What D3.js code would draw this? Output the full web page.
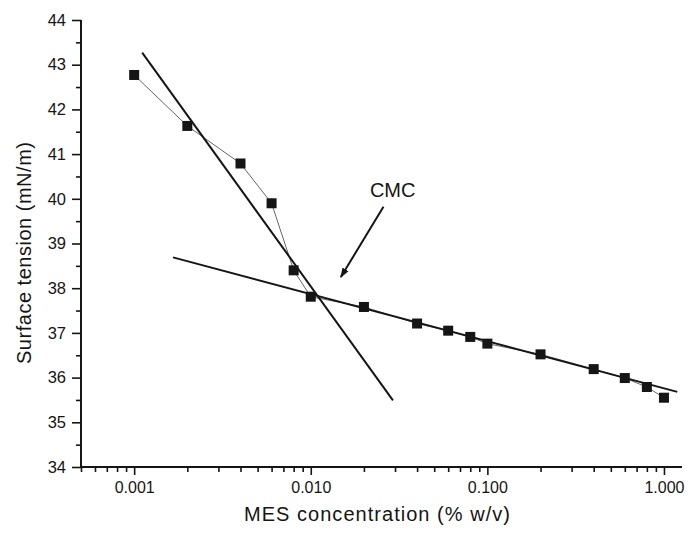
<!DOCTYPE html>
<html>
<head>
<meta charset="utf-8">
<script src="https://cdn.jsdelivr.net/npm/d3@7"></script>
<style>
  html, body { margin: 0; padding: 0; background: #fff; }
  svg { display: block; font-family: "Liberation Sans", Arial, sans-serif; }
</style>
</head>
<body>
<svg id="chart" width="690" height="536"></svg>
<script>
// ---- data ----
const concentration = [0.001, 0.002, 0.004, 0.006, 0.008, 0.01, 0.02, 0.04, 0.06, 0.08, 0.1, 0.2, 0.4, 0.6, 0.8, 1.0];
const tension = [42.77, 41.63, 40.79, 39.90, 38.40, 37.81, 37.58, 37.21, 37.05, 36.91, 36.76, 36.52, 36.19, 35.99, 35.79, 35.55];
const steepFitX = [0.00111, 0.0292];
const steepFitY = [43.27, 35.49];
const shallowFitX = [0.00166, 1.19];
const shallowFitY = [38.69, 35.68];
const xMajorTicks = [0.001, 0.01, 0.1, 1];
const yMajorTicks = [34, 35, 36, 37, 38, 39, 40, 41, 42, 43, 44];
const cmcLabel = "CMC";
const cmcLabelPos = [0.0291, 40.04];
const cmcArrowFrom = [0.0258, 39.82];
const cmcArrowTo = [0.0148, 38.25];
const xTitle = "MES concentration (% w/v)";
const yTitle = "Surface tension (mN/m)";

// ---- layout ----
const svg = d3.select("#chart");
const mLeft = 81, mRight = 682, mTop = 20, mBottom = 467;
const ink = "#151515";

const x = d3.scaleLog().domain([0.0005, 1.265]).range([mLeft, mRight]);
const y = d3.scaleLinear().domain([34, 44]).range([mBottom, mTop]);

// minor ticks
const xMinor = [];
for (let e = -4; e <= 0; e++) {
  for (let m = 2; m <= 9; m++) {
    const v = m * Math.pow(10, e);
    if (v >= 0.0005 - 1e-12 && v <= 1.265) xMinor.push(v);
  }
}
const yMinor = d3.range(34.5, 44, 1);

// x axis
const xAxis = svg.append("g").attr("transform", `translate(0,${mBottom})`);
xAxis.call(d3.axisBottom(x).tickValues(xMinor).tickSize(5).tickFormat(""));
xAxis.append("g").call(d3.axisBottom(x).tickValues(xMajorTicks).tickSize(8).tickPadding(7).tickFormat(d3.format(".3f")));
xAxis.selectAll(".domain").remove();
xAxis.append("line").attr("x1", mLeft - 1).attr("x2", mRight).attr("y1", 0).attr("y2", 0)
  .attr("stroke", ink).attr("stroke-width", 2);
xAxis.selectAll(".tick line").attr("stroke", ink).attr("stroke-width", 1.6);
xAxis.selectAll(".tick text").attr("font-size", 16).attr("fill", ink);

// y axis
const yAxis = svg.append("g").attr("transform", `translate(${mLeft},0)`);
yAxis.call(d3.axisLeft(y).tickValues(yMinor).tickSize(5).tickFormat(""));
yAxis.append("g").call(d3.axisLeft(y).tickValues(yMajorTicks).tickSize(9).tickPadding(6).tickFormat(d3.format("d")));
yAxis.selectAll(".domain").remove();
yAxis.append("line").attr("x1", 0).attr("x2", 0).attr("y1", mTop).attr("y2", mBottom + 1)
  .attr("stroke", ink).attr("stroke-width", 2);
yAxis.selectAll(".tick line").attr("stroke", ink).attr("stroke-width", 1.6);
yAxis.selectAll(".tick text").attr("font-size", 16.5).attr("fill", ink);

// axis titles
svg.append("text").attr("x", 377).attr("y", 521)
  .attr("text-anchor", "middle").attr("font-size", 20).attr("fill", ink)
  .attr("textLength", 266).attr("lengthAdjust", "spacing").text(xTitle);
svg.append("text").attr("transform", `translate(31,253) rotate(-90)`)
  .attr("text-anchor", "middle").attr("font-size", 20).attr("fill", ink)
  .attr("textLength", 222).attr("lengthAdjust", "spacing").text(yTitle);

// connecting line through data
const pts = concentration.map((c, i) => [c, tension[i]]);
const line = d3.line().x(d => x(d[0])).y(d => y(d[1]));
svg.append("path").datum(pts).attr("d", line)
  .attr("fill", "none").attr("stroke", "#666").attr("stroke-width", 1);

// fit lines
[[steepFitX, steepFitY], [shallowFitX, shallowFitY]].forEach(([fx, fy]) => {
  svg.append("path").datum(fx.map((v, i) => [v, fy[i]])).attr("d", line)
    .attr("fill", "none").attr("stroke", ink).attr("stroke-width", 2);
});

// markers
const s = 10;
svg.append("g").selectAll("rect").data(pts).join("rect")
  .attr("x", d => x(d[0]) - s / 2).attr("y", d => y(d[1]) - s / 2)
  .attr("width", s).attr("height", s).attr("fill", ink);

// CMC annotation
svg.append("defs").append("marker").attr("id", "ah")
  .attr("viewBox", "0 0 10 10").attr("refX", 9).attr("refY", 5)
  .attr("markerWidth", 5).attr("markerHeight", 5).attr("orient", "auto")
  .attr("markerUnits", "strokeWidth")
  .append("path").attr("d", "M0,1.5 L10,5 L0,8.5 Z").attr("fill", ink);
svg.append("line")
  .attr("x1", x(cmcArrowFrom[0])).attr("y1", y(cmcArrowFrom[1]))
  .attr("x2", x(cmcArrowTo[0])).attr("y2", y(cmcArrowTo[1]))
  .attr("stroke", ink).attr("stroke-width", 2).attr("marker-end", "url(#ah)");
svg.append("text").attr("x", x(cmcLabelPos[0])).attr("y", y(cmcLabelPos[1]))
  .attr("text-anchor", "middle").attr("font-size", 20).attr("fill", ink).text(cmcLabel);
</script>
</body>
</html>
